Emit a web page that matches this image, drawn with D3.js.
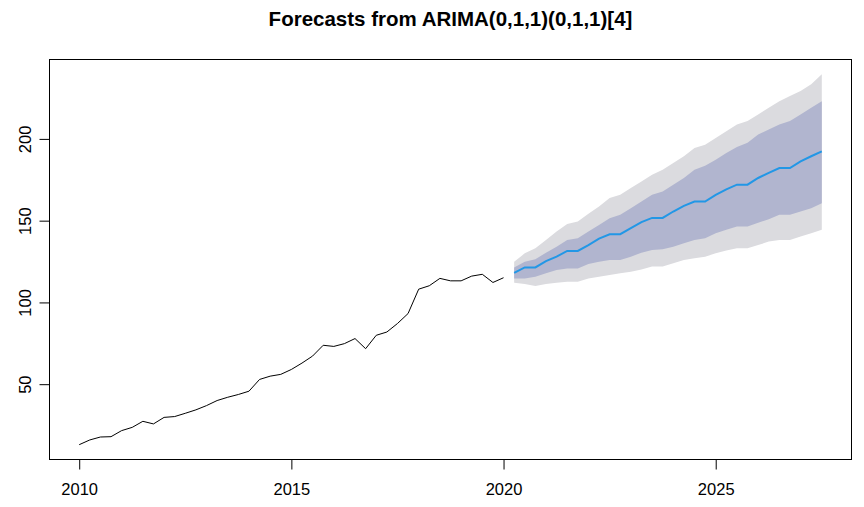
<!DOCTYPE html>
<html>
<head>
<meta charset="utf-8">
<script src="https://cdn.jsdelivr.net/npm/d3@7"></script>
<style>
  body { margin: 0; background: #fff; }
  text { font-family: "Liberation Sans", Arial, sans-serif; fill: #000; }
</style>
</head>
<body>
<div id="chart"></div>
<script>
// quarterly series, starts 2010 Q1
const startYear = 2010
const freq = 4

// observed values 2010 Q1 .. 2020 Q1
const observed = [13.0, 15.9, 17.7, 17.9, 21.6, 23.6, 27.3, 25.7, 29.7, 30.2,
    32.2, 34.3, 36.9, 40.0, 42.0, 43.7, 45.7, 52.9, 54.9, 56.0,
    59.0, 62.9, 67.2, 73.8, 73.1, 74.8, 77.9, 71.7, 79.9, 81.9,
    87.1, 93.2, 108.1, 110.2, 114.7, 113.2, 113.2, 116.1, 117.2, 112.2,
    115.1]

// forecast 2020 Q2 .. 2027 Q3
const fcMean = [118.1, 121.4, 121.4, 125.3, 128.0, 131.5, 131.5, 135.1, 139.0, 141.7,
    141.7, 145.4, 149.1, 151.7, 151.7, 155.6, 159.1, 161.7, 161.7, 165.8,
    169.1, 172.0, 172.0, 176.1, 179.2, 182.2, 182.2, 186.3, 189.4, 192.4]
const upper80 = [121.4, 124.9, 126.4, 130.4, 134.1, 138.2, 139.2, 143.3, 147.4, 151.5,
    153.6, 157.6, 161.7, 165.8, 167.9, 172.0, 176.1, 181.2, 183.6, 187.3,
    191.4, 195.1, 197.6, 202.7, 205.7, 208.8, 210.9, 214.9, 219.0, 223.1]
const lower80 = [114.7, 114.7, 115.7, 117.8, 119.8, 120.8, 120.8, 123.5, 124.9, 125.9,
    125.9, 128.0, 130.4, 132.1, 132.5, 134.1, 136.2, 138.2, 139.2, 142.3,
    144.4, 146.4, 146.4, 148.8, 150.9, 153.6, 153.6, 155.6, 157.6, 160.7]
const upper95 = [124.9, 130.0, 133.1, 138.2, 143.3, 148.0, 149.5, 154.2, 158.7, 163.8,
    165.8, 169.9, 174.0, 178.1, 181.2, 185.3, 189.4, 194.5, 196.5, 200.6,
    204.7, 208.8, 210.9, 214.9, 219.0, 223.1, 226.2, 229.3, 233.4, 239.5]
const lower95 = [112.0, 111.2, 110.0, 111.2, 112.0, 112.6, 112.6, 114.7, 115.7, 116.7,
    117.8, 118.8, 120.2, 121.9, 121.9, 123.9, 125.9, 127.0, 128.0, 130.0,
    131.7, 133.1, 133.1, 135.1, 137.2, 138.2, 138.2, 140.3, 142.3, 144.4]

const xTicks = [2010, 2015, 2020, 2025]
const yTicks = [50, 100, 150, 200]
const title = "Forecasts from ARIMA(0,1,1)(0,1,1)[4]"

const width = 864, height = 507
const box = { left: 49.5, right: 851.5, top: 59.5, bottom: 459.5 }

// time of each point (ts style)
const tObs = observed.map((d, i) => startYear + i / freq)
const tFc = fcMean.map((d, i) => startYear + (observed.length + i) / freq)

const hist = observed.map((v, i) => ({ t: tObs[i], v: v }))
const fc = fcMean.map((v, i) => ({
    t: tFc[i], mean: v,
    lo80: lower80[i], hi80: upper80[i],
    lo95: lower95[i], hi95: upper95[i]
}))

// R style 4% padding around the data range
const tExt = [tObs[0], tFc[tFc.length - 1]]
const tPad = (tExt[1] - tExt[0]) * 0.04
const allVals = observed.concat(lower95, upper95)
const vExt = d3.extent(allVals)
const vPad = (vExt[1] - vExt[0]) * 0.04

const x = d3.scaleLinear()
    .domain([tExt[0] - tPad, tExt[1] + tPad])
    .range([box.left, box.right])
const y = d3.scaleLinear()
    .domain([vExt[0] - vPad, vExt[1] + vPad])
    .range([box.bottom, box.top])

const svg = d3.select("#chart")
    .append("svg")
    .attr("width", width)
    .attr("height", height)

// shaded intervals
svg.append("path")
    .datum(fc)
    .attr("fill", "#dbdbdf")
    .attr("d", d3.area().x(d => x(d.t)).y0(d => y(d.lo95)).y1(d => y(d.hi95)))
svg.append("path")
    .datum(fc)
    .attr("fill", "#b1b5cf")
    .attr("d", d3.area().x(d => x(d.t)).y0(d => y(d.lo80)).y1(d => y(d.hi80)))

// forecast mean
svg.append("path")
    .datum(fc)
    .attr("fill", "none")
    .attr("stroke", "#2297e6")
    .attr("stroke-width", 2)
    .attr("d", d3.line().x(d => x(d.t)).y(d => y(d.mean)))

// observed series
svg.append("path")
    .datum(hist)
    .attr("fill", "none")
    .attr("stroke", "#000")
    .attr("stroke-width", 1)
    .attr("d", d3.line().x(d => x(d.t)).y(d => y(d.v)))

// axes
const xAxis = svg.append("g")
    .attr("transform", "translate(0," + box.bottom + ")")
    .call(d3.axisBottom(x).tickValues(xTicks).tickFormat(d3.format("d")).tickSize(10).tickPadding(14))
xAxis.select(".domain").remove()
xAxis.selectAll("text").attr("font-size", 16.5).attr("fill", "#000")
    .style("font-family", '"Liberation Sans", Arial, sans-serif')
xAxis.selectAll("line").attr("stroke", "#000")

const yAxis = svg.append("g")
    .attr("transform", "translate(" + box.left + ",0)")
    .call(d3.axisLeft(y).tickValues(yTicks).tickSize(10).tickFormat(d3.format("d")))
yAxis.select(".domain").remove()
yAxis.selectAll("line").attr("stroke", "#000")
yAxis.selectAll("text")
    .attr("font-size", 16.5).attr("fill", "#000")
    .style("font-family", '"Liberation Sans", Arial, sans-serif')
    .attr("x", null).attr("dy", null)
    .attr("text-anchor", "middle")
    .attr("transform", "translate(-19,0) rotate(-90)")

// plot box
svg.append("rect")
    .attr("x", box.left).attr("y", box.top)
    .attr("width", box.right - box.left)
    .attr("height", box.bottom - box.top)
    .attr("fill", "none")
    .attr("stroke", "#000")
    .attr("stroke-width", 1)

// title
svg.append("text")
    .attr("x", (box.left + box.right) / 2)
    .attr("y", 26)
    .attr("text-anchor", "middle")
    .attr("font-size", 20.5)
    .attr("font-weight", "bold")
    .text(title)
</script>
</body>
</html>
